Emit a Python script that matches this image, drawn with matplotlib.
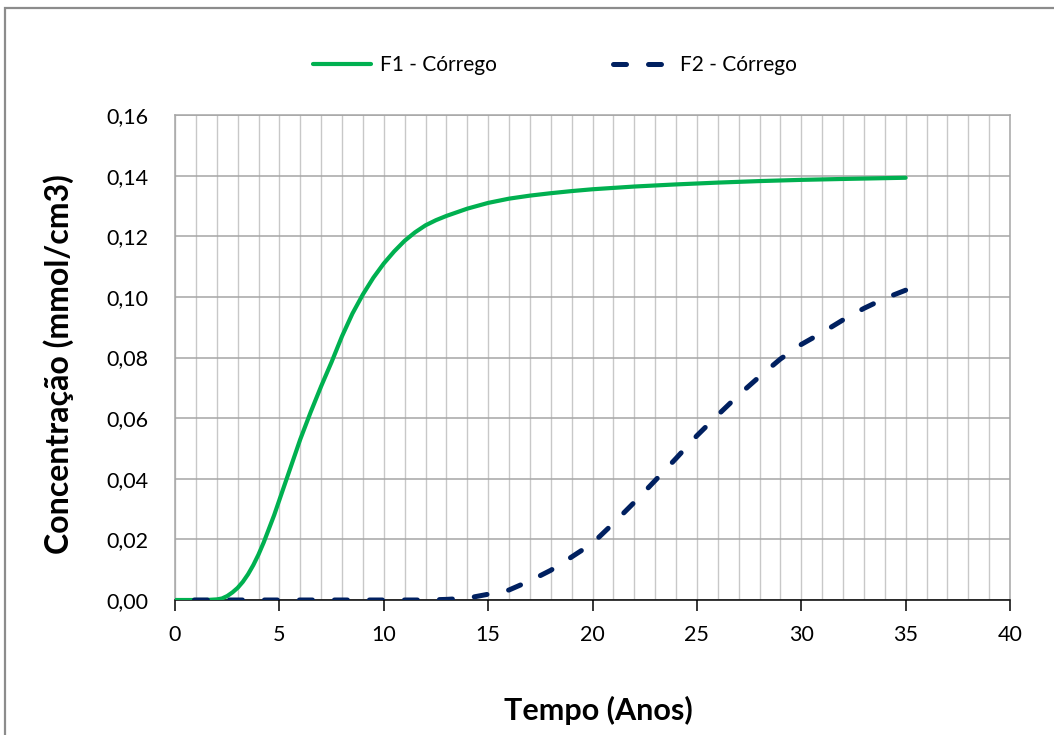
import matplotlib
matplotlib.use("Agg")
import matplotlib.pyplot as plt
from matplotlib.patches import Rectangle
from matplotlib.ticker import MultipleLocator, FuncFormatter

plt.rcParams['font.family'] = ['Lato', 'DejaVu Sans']

# ---- data ----
t_f1 = [0, 0.5, 1, 1.5, 1.75, 2, 2.25, 2.5, 2.75, 3, 3.25, 3.5, 3.75, 4, 4.25, 4.5, 4.75, 5,
        5.25, 5.5, 5.75, 6, 6.25, 6.5, 7, 7.5, 8, 8.5, 9, 9.5, 10, 10.5, 11, 11.5, 12, 12.5,
        13, 14, 15, 16, 17, 18, 19, 20, 22, 24, 26, 28, 30, 32, 35]
f1 = [0, 0, 0, 0, 0.0001, 0.0002, 0.0005, 0.0013, 0.0025, 0.004, 0.006, 0.0085, 0.0115,
      0.015, 0.019, 0.0235, 0.028, 0.033, 0.038, 0.043, 0.048, 0.053, 0.0575, 0.062, 0.0705,
      0.0785, 0.087, 0.0945, 0.1008, 0.1063, 0.111, 0.115, 0.1185, 0.1213, 0.1236, 0.1253,
      0.1267, 0.1291, 0.131, 0.1324, 0.1334, 0.1342, 0.1349, 0.1355, 0.1364, 0.1371, 0.1377,
      0.1382, 0.1386, 0.1389, 0.1393]

t_f2 = [0, 1, 2, 3, 4, 5, 6, 7, 8, 9, 10, 11, 12, 13, 14, 15, 16, 17, 18, 19, 20, 21, 22, 23,
        24, 25, 26, 27, 28, 29, 30, 31, 32, 33, 34, 35]
f2 = [0, 0, 0, 0, 0, 0, 0, 0, 0, 0, 0, 0, 0, 0.0002, 0.0006, 0.0019, 0.0033, 0.0063, 0.0098,
      0.0142, 0.0187, 0.0253, 0.0322, 0.0394, 0.0467, 0.0542, 0.061, 0.0676, 0.0737, 0.0795,
      0.0843, 0.0882, 0.0924, 0.0962, 0.0995, 0.1022]

series_names = ["F1 - Córrego", "F2 - Córrego"]
x_label = "Tempo (Anos)"
y_label = "Concentração (mmol/cm3)"

W, H = 1054, 735
fig = plt.figure(figsize=(W / 100, H / 100), dpi=100)
fig.patch.set_facecolor('white')

# outer chart frame (partly cropped in the reference)
fig.patches.append(Rectangle((5 / W, -0.05), 1.2, 1 - 8 / H + 0.05, transform=fig.transFigure,
                             fill=False, edgecolor='#8c8c8c', linewidth=1.6, zorder=0))

left, right, top, bottom = 175 / W, 1010 / W, 115 / H, 600 / H
ax = fig.add_axes([left, 1 - bottom, right - left, bottom - top])

ax.plot(t_f1, f1, color='#00B050', lw=3.0, solid_capstyle='round', solid_joinstyle='round',
        label=series_names[0], zorder=3)
# drawn from the last point backwards so the dash pattern ends on a dash at x=35
ax.plot(t_f2[::-1], f2[::-1], color='#002060', lw=3.6, dashes=(2.6, 4.4),
        dash_capstyle='round', label=series_names[1], zorder=4)

ax.set_xlim(0, 40)
ax.set_ylim(0, 0.16)
ax.xaxis.set_major_locator(MultipleLocator(5))
ax.xaxis.set_minor_locator(MultipleLocator(1))
ax.yaxis.set_major_locator(MultipleLocator(0.02))
ax.yaxis.set_major_formatter(FuncFormatter(lambda v, p: f"{v:.2f}".replace('.', ',')))

ax.grid(which='minor', axis='x', color='#c8c8c8', lw=1.0, zorder=0)
ax.grid(which='major', axis='x', color='#c8c8c8', lw=1.0, zorder=0)
ax.grid(which='major', axis='y', color='#a6a6a6', lw=1.1, zorder=0)
ax.set_axisbelow(True)

for s in ['top', 'right', 'left']:
    ax.spines[s].set_color('#a6a6a6')
    ax.spines[s].set_linewidth(1.1)
ax.spines['bottom'].set_color('black')
ax.spines['bottom'].set_linewidth(1.1)

ax.tick_params(axis='x', which='major', direction='out', length=8, width=1.1, color='black',
               labelsize=15.5, pad=10, labelcolor='black')
ax.tick_params(axis='x', which='minor', length=0)
ax.tick_params(axis='y', which='both', length=0, labelsize=15.5, pad=19, labelcolor='black')

fig.text(598 / W, 1 - 710 / H, x_label, ha='center', va='center', fontsize=22,
         fontweight='bold', color='black')
fig.text(59 / W, 1 - 364 / H, y_label, ha='center', va='center', rotation=90, fontsize=23,
         fontweight='bold', color='black')

leg = fig.legend(loc='center', bbox_to_anchor=(555 / W, 1 - 65 / H), ncol=2, frameon=False,
                 fontsize=15, handlelength=2.8, handletextpad=0.4, columnspacing=5.6)

fig.savefig('out.png', dpi=100)
